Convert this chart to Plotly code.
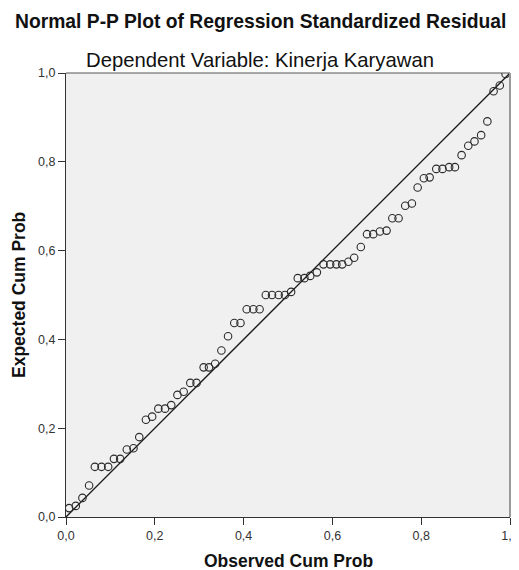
import plotly.graph_objects as go

# Observed cumulative probability (x) and expected cumulative probability (y)
observed_cum_prob = [
    0.007, 0.022, 0.037, 0.052, 0.065, 0.080, 0.095, 0.108, 0.122, 0.137,
    0.152, 0.165, 0.180, 0.194, 0.208, 0.223, 0.237, 0.251, 0.265, 0.280,
    0.294, 0.310, 0.322, 0.336, 0.350, 0.365, 0.379, 0.393, 0.407, 0.422,
    0.436, 0.450, 0.464, 0.479, 0.493, 0.507, 0.522, 0.537, 0.550, 0.565,
    0.580, 0.595, 0.609, 0.622, 0.636, 0.649, 0.664, 0.678, 0.692, 0.707,
    0.722, 0.735, 0.749, 0.764, 0.779, 0.792, 0.806, 0.819, 0.834, 0.848,
    0.863, 0.876, 0.891, 0.906, 0.920, 0.935, 0.949, 0.963, 0.977, 0.990,
]
expected_cum_prob = [
    0.020, 0.025, 0.043, 0.071, 0.113, 0.113, 0.113, 0.131, 0.131, 0.152,
    0.155, 0.180, 0.219, 0.226, 0.244, 0.244, 0.252, 0.275, 0.282, 0.302,
    0.302, 0.337, 0.337, 0.345, 0.375, 0.407, 0.437, 0.437, 0.468, 0.468,
    0.468, 0.500, 0.500, 0.500, 0.500, 0.507, 0.538, 0.538, 0.543, 0.551,
    0.569, 0.569, 0.569, 0.569, 0.575, 0.584, 0.608, 0.637, 0.637, 0.643,
    0.645, 0.673, 0.673, 0.701, 0.706, 0.742, 0.763, 0.765, 0.784, 0.784,
    0.788, 0.788, 0.815, 0.836, 0.846, 0.860, 0.891, 0.959, 0.972, 0.998,
]

# Reference (normal) line
ref_line_x = [0.0, 1.0]
ref_line_y = [0.0, 1.0]

tick_vals = [0.0, 0.2, 0.4, 0.6, 0.8, 1.0]
tick_text = ["0,0", "0,2", "0,4", "0,6", "0,8", "1,0"]

title_text = "Normal P-P Plot of Regression Standardized Residual"
subtitle_text = "Dependent Variable: Kinerja Karyawan"
x_title = "Observed Cum Prob"
y_title = "Expected Cum Prob"

FONT = "Liberation Sans, Arial, sans-serif"

fig = go.Figure()
fig.add_trace(go.Scatter(
    x=ref_line_x, y=ref_line_y, mode="lines",
    line=dict(color="#1a1a1a", width=1.3),
    hoverinfo="skip", showlegend=False,
))
fig.add_trace(go.Scatter(
    x=observed_cum_prob, y=expected_cum_prob, mode="markers",
    marker=dict(symbol="circle-open", size=7.5, color="#2a2a2a",
                line=dict(width=1.1, color="#2a2a2a")),
    showlegend=False,
))

# page body adds an 8px offset, so the figure is 8px smaller than the window
W, H = 511, 562
L, R, T, B = 58, 9, 65, 53
pw = W - L - R
ph = H - T - B
title_cx = (252 - L) / pw  # title centred on the whole picture

fig.update_layout(
    width=W, height=H,
    margin=dict(l=L, r=R, t=T, b=B, autoexpand=False),
    paper_bgcolor="white",
    plot_bgcolor="#F0F0F0",
    font=dict(family=FONT, color="#222222"),
    showlegend=False,
    xaxis=dict(
        range=[0, 1], tickvals=tick_vals, ticktext=tick_text,
        ticks="outside", ticklen=7, tickwidth=1.2, tickcolor="#333333",
        showline=True, linecolor="#333333", linewidth=1.2,
        showgrid=False, zeroline=False, automargin=False,
        tickfont=dict(size=12.5, color="#333333", family=FONT),
    ),
    yaxis=dict(
        range=[0, 1], tickvals=tick_vals, ticktext=tick_text,
        ticks="outside", ticklen=7, tickwidth=1.2, tickcolor="#333333",
        showline=True, linecolor="#333333", linewidth=1.2,
        showgrid=False, zeroline=False, automargin=False,
        tickfont=dict(size=12.5, color="#333333", family=FONT),
    ),
    shapes=[
        dict(type="line", xref="paper", yref="paper", x0=0, x1=1, y0=1, y1=1,
             line=dict(color="#555555", width=1.2)),
        dict(type="line", xref="paper", yref="paper", x0=1, x1=1, y0=0, y1=1,
             line=dict(color="#9a9a9a", width=2)),
    ],
    annotations=[
        dict(text="<b>" + title_text + "</b>", xref="paper", yref="paper",
             x=title_cx, y=1 + (T - 14) / ph, xanchor="center", yanchor="middle",
             showarrow=False, font=dict(size=19.3, color="#111111", family=FONT)),
        dict(text=subtitle_text, xref="paper", yref="paper",
             x=title_cx, y=1 + (T - 52) / ph, xanchor="center", yanchor="middle",
             showarrow=False, font=dict(size=20.3, color="#111111", family=FONT)),
        dict(text="<b>" + x_title + "</b>", xref="paper", yref="paper",
             x=0.5, y=-(553 - (T + ph)) / ph, xanchor="center", yanchor="middle",
             showarrow=False, font=dict(size=17.5, color="#111111", family=FONT)),
        dict(text="<b>" + y_title + "</b>", xref="paper", yref="paper",
             x=-(L - 11) / pw, y=0.5, xanchor="center", yanchor="middle",
             textangle=-90,
             showarrow=False, font=dict(size=17.5, color="#111111", family=FONT)),
    ],
)

fig.write_html("out.html")
